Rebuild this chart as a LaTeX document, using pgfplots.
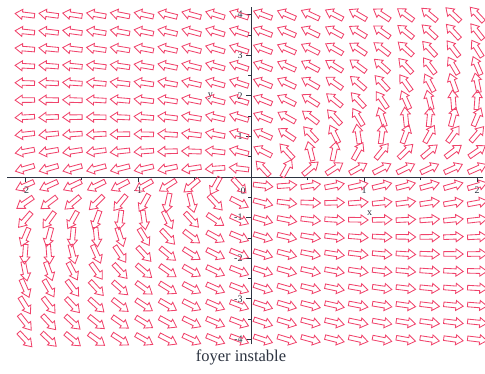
\documentclass[border=0pt]{standalone}
\usepackage{pgfplots}
\pgfplotsset{compat=1.18}
\usepackage{fontspec}
\setmainfont{Liberation Serif}
\definecolor{arr}{RGB}{240,68,108}
\definecolor{ink}{RGB}{45,52,65}
\pgfdeclareplotmark{fatarrow}{%
  \pgfpathmoveto{\pgfqpoint{-9.5pt}{-2.3pt}}%
  \pgfpathlineto{\pgfqpoint{2.8pt}{-2.3pt}}%
  \pgfpathlineto{\pgfqpoint{2.8pt}{-5pt}}%
  \pgfpathlineto{\pgfqpoint{10pt}{0pt}}%
  \pgfpathlineto{\pgfqpoint{2.8pt}{5pt}}%
  \pgfpathlineto{\pgfqpoint{2.8pt}{2.3pt}}%
  \pgfpathlineto{\pgfqpoint{-9.5pt}{2.3pt}}%
  \pgfpathclose
  \pgfusepathqstroke}
\begin{document}
\begin{tikzpicture}
\begin{axis}[at={(0,0)},anchor=south west,scale only axis,
  width=475.7pt,height=337.8pt,
  xmin=-2.16,xmax=2.05,ymin=-4.12,ymax=4.2,
  axis lines=middle,axis line style={ink,line width=1pt,-},
  clip=false,
  xtick={-2,-1,1,2},xticklabels={-2,-1,1,2},
  minor xtick={-1.5,-0.5,0.5,1.5},
  ytick={-4,-3,-2,-1,1,2,3,4},yticklabels={-4,-3,-2,-1,1,2,3,4},
  minor ytick={-3.5,-2.5,-1.5,-0.5,0.5,1.5,2.5,3.5},
  tick align=outside,major tick length=5pt,minor tick length=3pt,
  tick style={ink,line width=0.7pt},
  ticklabel style={font=\fontsize{10}{12}\selectfont,text=ink},
  xticklabel style={yshift=-1pt}]
\coordinate (SW) at (rel axis cs:0,0);
\addplot[only marks,scatter,mark=fatarrow,color=arr,mark options={line width=0.85pt},
  visualization depends on={atan2(40.6*\thisrow{v},113*\thisrow{u}) \as \ang},
  scatter/@pre marker code/.code={\scope[rotate=\ang]},
  scatter/@post marker code/.code={\endscope}]
table[x=x,y=y]{
x y u v
-2 -4 19 -57
-1.789 -4 21 -55
-1.579 -4 23 -53
-1.368 -4 25 -51
-1.158 -4 27 -49
-0.947 -4 29 -47
-0.737 -4 31 -45
-0.526 -4 33 -43
-0.316 -4 35 -41
-0.105 -4 37 -39
0.105 -4 39 -37
0.316 -4 41 -35
0.526 -4 43 -33
0.737 -4 45 -31
0.947 -4 47 -29
1.158 -4 49 -27
1.368 -4 51 -25
1.579 -4 53 -23
1.789 -4 55 -21
2 -4 57 -19
-2 -3.579 15 -53
-1.789 -3.579 17 -51
-1.579 -3.579 19 -49
-1.368 -3.579 21 -47
-1.158 -3.579 23 -45
-0.947 -3.579 25 -43
-0.737 -3.579 27 -41
-0.526 -3.579 29 -39
-0.316 -3.579 31 -37
-0.105 -3.579 33 -35
0.105 -3.579 35 -33
0.316 -3.579 37 -31
0.526 -3.579 39 -29
0.737 -3.579 41 -27
0.947 -3.579 43 -25
1.158 -3.579 45 -23
1.368 -3.579 47 -21
1.579 -3.579 49 -19
1.789 -3.579 51 -17
2 -3.579 53 -15
-2 -3.158 11 -49
-1.789 -3.158 13 -47
-1.579 -3.158 15 -45
-1.368 -3.158 17 -43
-1.158 -3.158 19 -41
-0.947 -3.158 21 -39
-0.737 -3.158 23 -37
-0.526 -3.158 25 -35
-0.316 -3.158 27 -33
-0.105 -3.158 29 -31
0.105 -3.158 31 -29
0.316 -3.158 33 -27
0.526 -3.158 35 -25
0.737 -3.158 37 -23
0.947 -3.158 39 -21
1.158 -3.158 41 -19
1.368 -3.158 43 -17
1.579 -3.158 45 -15
1.789 -3.158 47 -13
2 -3.158 49 -11
-2 -2.737 7 -45
-1.789 -2.737 9 -43
-1.579 -2.737 11 -41
-1.368 -2.737 13 -39
-1.158 -2.737 15 -37
-0.947 -2.737 17 -35
-0.737 -2.737 19 -33
-0.526 -2.737 21 -31
-0.316 -2.737 23 -29
-0.105 -2.737 25 -27
0.105 -2.737 27 -25
0.316 -2.737 29 -23
0.526 -2.737 31 -21
0.737 -2.737 33 -19
0.947 -2.737 35 -17
1.158 -2.737 37 -15
1.368 -2.737 39 -13
1.579 -2.737 41 -11
1.789 -2.737 43 -9
2 -2.737 45 -7
-2 -2.316 3 -41
-1.789 -2.316 5 -39
-1.579 -2.316 7 -37
-1.368 -2.316 9 -35
-1.158 -2.316 11 -33
-0.947 -2.316 13 -31
-0.737 -2.316 15 -29
-0.526 -2.316 17 -27
-0.316 -2.316 19 -25
-0.105 -2.316 21 -23
0.105 -2.316 23 -21
0.316 -2.316 25 -19
0.526 -2.316 27 -17
0.737 -2.316 29 -15
0.947 -2.316 31 -13
1.158 -2.316 33 -11
1.368 -2.316 35 -9
1.579 -2.316 37 -7
1.789 -2.316 39 -5
2 -2.316 41 -3
-2 -1.895 -1 -37
-1.789 -1.895 1 -35
-1.579 -1.895 3 -33
-1.368 -1.895 5 -31
-1.158 -1.895 7 -29
-0.947 -1.895 9 -27
-0.737 -1.895 11 -25
-0.526 -1.895 13 -23
-0.316 -1.895 15 -21
-0.105 -1.895 17 -19
0.105 -1.895 19 -17
0.316 -1.895 21 -15
0.526 -1.895 23 -13
0.737 -1.895 25 -11
0.947 -1.895 27 -9
1.158 -1.895 29 -7
1.368 -1.895 31 -5
1.579 -1.895 33 -3
1.789 -1.895 35 -1
2 -1.895 37 1
-2 -1.474 -5 -33
-1.789 -1.474 -3 -31
-1.579 -1.474 -1 -29
-1.368 -1.474 1 -27
-1.158 -1.474 3 -25
-0.947 -1.474 5 -23
-0.737 -1.474 7 -21
-0.526 -1.474 9 -19
-0.316 -1.474 11 -17
-0.105 -1.474 13 -15
0.105 -1.474 15 -13
0.316 -1.474 17 -11
0.526 -1.474 19 -9
0.737 -1.474 21 -7
0.947 -1.474 23 -5
1.158 -1.474 25 -3
1.368 -1.474 27 -1
1.579 -1.474 29 1
1.789 -1.474 31 3
2 -1.474 33 5
-2 -1.053 -9 -29
-1.789 -1.053 -7 -27
-1.579 -1.053 -5 -25
-1.368 -1.053 -3 -23
-1.158 -1.053 -1 -21
-0.947 -1.053 1 -19
-0.737 -1.053 3 -17
-0.526 -1.053 5 -15
-0.316 -1.053 7 -13
-0.105 -1.053 9 -11
0.105 -1.053 11 -9
0.316 -1.053 13 -7
0.526 -1.053 15 -5
0.737 -1.053 17 -3
0.947 -1.053 19 -1
1.158 -1.053 21 1
1.368 -1.053 23 3
1.579 -1.053 25 5
1.789 -1.053 27 7
2 -1.053 29 9
-2 -0.632 -13 -25
-1.789 -0.632 -11 -23
-1.579 -0.632 -9 -21
-1.368 -0.632 -7 -19
-1.158 -0.632 -5 -17
-0.947 -0.632 -3 -15
-0.737 -0.632 -1 -13
-0.526 -0.632 1 -11
-0.316 -0.632 3 -9
-0.105 -0.632 5 -7
0.105 -0.632 7 -5
0.316 -0.632 9 -3
0.526 -0.632 11 -1
0.737 -0.632 13 1
0.947 -0.632 15 3
1.158 -0.632 17 5
1.368 -0.632 19 7
1.579 -0.632 21 9
1.789 -0.632 23 11
2 -0.632 25 13
-2 -0.211 -17 -21
-1.789 -0.211 -15 -19
-1.579 -0.211 -13 -17
-1.368 -0.211 -11 -15
-1.158 -0.211 -9 -13
-0.947 -0.211 -7 -11
-0.737 -0.211 -5 -9
-0.526 -0.211 -3 -7
-0.316 -0.211 -1 -5
-0.105 -0.211 1 -3
0.105 -0.211 3 -1
0.316 -0.211 5 1
0.526 -0.211 7 3
0.737 -0.211 9 5
0.947 -0.211 11 7
1.158 -0.211 13 9
1.368 -0.211 15 11
1.579 -0.211 17 13
1.789 -0.211 19 15
2 -0.211 21 17
-2 0.211 -21 -17
-1.789 0.211 -19 -15
-1.579 0.211 -17 -13
-1.368 0.211 -15 -11
-1.158 0.211 -13 -9
-0.947 0.211 -11 -7
-0.737 0.211 -9 -5
-0.526 0.211 -7 -3
-0.316 0.211 -5 -1
-0.105 0.211 -3 1
0.105 0.211 -1 3
0.316 0.211 1 5
0.526 0.211 3 7
0.737 0.211 5 9
0.947 0.211 7 11
1.158 0.211 9 13
1.368 0.211 11 15
1.579 0.211 13 17
1.789 0.211 15 19
2 0.211 17 21
-2 0.632 -25 -13
-1.789 0.632 -23 -11
-1.579 0.632 -21 -9
-1.368 0.632 -19 -7
-1.158 0.632 -17 -5
-0.947 0.632 -15 -3
-0.737 0.632 -13 -1
-0.526 0.632 -11 1
-0.316 0.632 -9 3
-0.105 0.632 -7 5
0.105 0.632 -5 7
0.316 0.632 -3 9
0.526 0.632 -1 11
0.737 0.632 1 13
0.947 0.632 3 15
1.158 0.632 5 17
1.368 0.632 7 19
1.579 0.632 9 21
1.789 0.632 11 23
2 0.632 13 25
-2 1.053 -29 -9
-1.789 1.053 -27 -7
-1.579 1.053 -25 -5
-1.368 1.053 -23 -3
-1.158 1.053 -21 -1
-0.947 1.053 -19 1
-0.737 1.053 -17 3
-0.526 1.053 -15 5
-0.316 1.053 -13 7
-0.105 1.053 -11 9
0.105 1.053 -9 11
0.316 1.053 -7 13
0.526 1.053 -5 15
0.737 1.053 -3 17
0.947 1.053 -1 19
1.158 1.053 1 21
1.368 1.053 3 23
1.579 1.053 5 25
1.789 1.053 7 27
2 1.053 9 29
-2 1.474 -33 -5
-1.789 1.474 -31 -3
-1.579 1.474 -29 -1
-1.368 1.474 -27 1
-1.158 1.474 -25 3
-0.947 1.474 -23 5
-0.737 1.474 -21 7
-0.526 1.474 -19 9
-0.316 1.474 -17 11
-0.105 1.474 -15 13
0.105 1.474 -13 15
0.316 1.474 -11 17
0.526 1.474 -9 19
0.737 1.474 -7 21
0.947 1.474 -5 23
1.158 1.474 -3 25
1.368 1.474 -1 27
1.579 1.474 1 29
1.789 1.474 3 31
2 1.474 5 33
-2 1.895 -37 -1
-1.789 1.895 -35 1
-1.579 1.895 -33 3
-1.368 1.895 -31 5
-1.158 1.895 -29 7
-0.947 1.895 -27 9
-0.737 1.895 -25 11
-0.526 1.895 -23 13
-0.316 1.895 -21 15
-0.105 1.895 -19 17
0.105 1.895 -17 19
0.316 1.895 -15 21
0.526 1.895 -13 23
0.737 1.895 -11 25
0.947 1.895 -9 27
1.158 1.895 -7 29
1.368 1.895 -5 31
1.579 1.895 -3 33
1.789 1.895 -1 35
2 1.895 1 37
-2 2.316 -41 3
-1.789 2.316 -39 5
-1.579 2.316 -37 7
-1.368 2.316 -35 9
-1.158 2.316 -33 11
-0.947 2.316 -31 13
-0.737 2.316 -29 15
-0.526 2.316 -27 17
-0.316 2.316 -25 19
-0.105 2.316 -23 21
0.105 2.316 -21 23
0.316 2.316 -19 25
0.526 2.316 -17 27
0.737 2.316 -15 29
0.947 2.316 -13 31
1.158 2.316 -11 33
1.368 2.316 -9 35
1.579 2.316 -7 37
1.789 2.316 -5 39
2 2.316 -3 41
-2 2.737 -45 7
-1.789 2.737 -43 9
-1.579 2.737 -41 11
-1.368 2.737 -39 13
-1.158 2.737 -37 15
-0.947 2.737 -35 17
-0.737 2.737 -33 19
-0.526 2.737 -31 21
-0.316 2.737 -29 23
-0.105 2.737 -27 25
0.105 2.737 -25 27
0.316 2.737 -23 29
0.526 2.737 -21 31
0.737 2.737 -19 33
0.947 2.737 -17 35
1.158 2.737 -15 37
1.368 2.737 -13 39
1.579 2.737 -11 41
1.789 2.737 -9 43
2 2.737 -7 45
-2 3.158 -49 11
-1.789 3.158 -47 13
-1.579 3.158 -45 15
-1.368 3.158 -43 17
-1.158 3.158 -41 19
-0.947 3.158 -39 21
-0.737 3.158 -37 23
-0.526 3.158 -35 25
-0.316 3.158 -33 27
-0.105 3.158 -31 29
0.105 3.158 -29 31
0.316 3.158 -27 33
0.526 3.158 -25 35
0.737 3.158 -23 37
0.947 3.158 -21 39
1.158 3.158 -19 41
1.368 3.158 -17 43
1.579 3.158 -15 45
1.789 3.158 -13 47
2 3.158 -11 49
-2 3.579 -53 15
-1.789 3.579 -51 17
-1.579 3.579 -49 19
-1.368 3.579 -47 21
-1.158 3.579 -45 23
-0.947 3.579 -43 25
-0.737 3.579 -41 27
-0.526 3.579 -39 29
-0.316 3.579 -37 31
-0.105 3.579 -35 33
0.105 3.579 -33 35
0.316 3.579 -31 37
0.526 3.579 -29 39
0.737 3.579 -27 41
0.947 3.579 -25 43
1.158 3.579 -23 45
1.368 3.579 -21 47
1.579 3.579 -19 49
1.789 3.579 -17 51
2 3.579 -15 53
-2 4 -57 19
-1.789 4 -55 21
-1.579 4 -53 23
-1.368 4 -51 25
-1.158 4 -49 27
-0.947 4 -47 29
-0.737 4 -45 31
-0.526 4 -43 33
-0.316 4 -41 35
-0.105 4 -39 37
0.105 4 -37 39
0.316 4 -35 41
0.526 4 -33 43
0.737 4 -31 45
0.947 4 -29 47
1.158 4 -27 49
1.368 4 -25 51
1.579 4 -23 53
1.789 4 -21 55
2 4 -19 57
};
\node[text=ink,font=\fontsize{10}{12}\selectfont] at (axis cs:1.05,-0.89) {x};
\node[text=ink,font=\fontsize{10}{12}\selectfont] at (axis cs:-0.36,2.0) {y};
\node[text=ink,font=\fontsize{10}{12}\selectfont] at (axis cs:-0.07,-0.34) {0};
\end{axis}
\node[text=ink,font=\fontsize{16.5}{19}\selectfont] at ([shift={(234pt,-12.7pt)}]SW) {foyer instable};
\pgfresetboundingbox
\path[use as bounding box] ([shift={(-7pt,-28.7pt)}]SW) rectangle ([shift={(478pt,344.3pt)}]SW);
\end{tikzpicture}
\end{document}
